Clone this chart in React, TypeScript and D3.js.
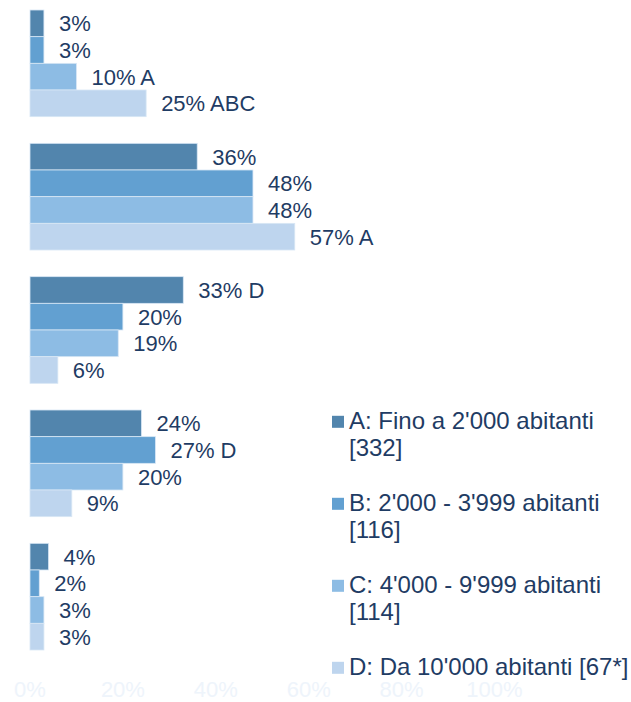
import React from "react";
import * as d3 from "d3";

const categories = ["g1", "g2", "g3", "g4", "g5"];
const seriesKeys = ["A", "B", "C", "D"];
const seriesA = [3, 36, 33, 24, 4];
const seriesB = [3, 48, 20, 27, 2];
const seriesC = [10, 48, 19, 20, 3];
const seriesD = [25, 57, 6, 9, 3];
const notesA = ["", "", "D", "", ""];
const notesB = ["", "", "", "D", ""];
const notesC = ["A", "", "", "", ""];
const notesD = ["ABC", "A", "", "", ""];
const legendLines = [
  ["A: Fino a 2'000 abitanti", "[332]"],
  ["B: 2'000 - 3'999 abitanti", "[116]"],
  ["C: 4'000 - 9'999 abitanti", "[114]"],
  ["D: Da 10'000 abitanti [67*]"],
];
const xTicks = [0, 20, 40, 60, 80, 100];

const colors = ["#5285ad", "#62a0d1", "#8dbce4", "#bed5ee"];
const textColor = "#1f3c64";
const FONT = "'Liberation Sans', Arial, sans-serif";

export default function App() {
  const W = 631, H = 702;
  const values = [seriesA, seriesB, seriesC, seriesD];
  const notes = [notesA, notesB, notesC, notesD];
  const x = d3.scaleLinear().domain([0, 100]).range([30, 494.5]);
  const y = d3.scaleBand<string>().domain(categories).range([-3.33, 663.33]).paddingInner(0.2).paddingOuter(0.1);
  const ys = d3.scaleBand<string>().domain(seriesKeys).range([0, y.bandwidth()]).padding(0);

  return (
    <svg width={W} height={H} style={{ position: "absolute", left: 0, top: 0, background: "#fff" }} fontFamily={FONT}>
      {categories.map((c, ci) => (
        <g key={c} transform={`translate(0,${y(c)})`}>
          {seriesKeys.map((s, si) => {
            const v = values[si][ci];
            const y0 = ys(s)!;
            const label = `${v}%` + (notes[si][ci] ? ` ${notes[si][ci]}` : "");
            return (
              <g key={s}>
                <rect x={x(0)} y={y0} width={x(v) - x(0)} height={ys.bandwidth()} fill={colors[si]} stroke="#d8e7f5" strokeWidth={0.8} />
                <text x={x(v) + 15} y={y0 + ys.bandwidth() / 2} dy="0.36em" fontSize={22} fill={textColor}>{label}</text>
              </g>
            );
          })}
        </g>
      ))}
      {xTicks.map((t) => (
        <text key={t} x={x(t)} y={697} textAnchor="middle" fontSize={22} fill="#eef4fb">{`${t}%`}</text>
      ))}
      {legendLines.map((lines, i) => {
        const base = 429.3 + i * 82;
        return (
          <g key={i}>
            <rect x={332} y={base - 13.5} width={12} height={12} fill={colors[i]} />
            {lines.map((ln, li) => (
              <text key={li} x={349} y={base + li * 27} fontSize={24} fill={textColor}>{ln}</text>
            ))}
          </g>
        );
      })}
    </svg>
  );
}
